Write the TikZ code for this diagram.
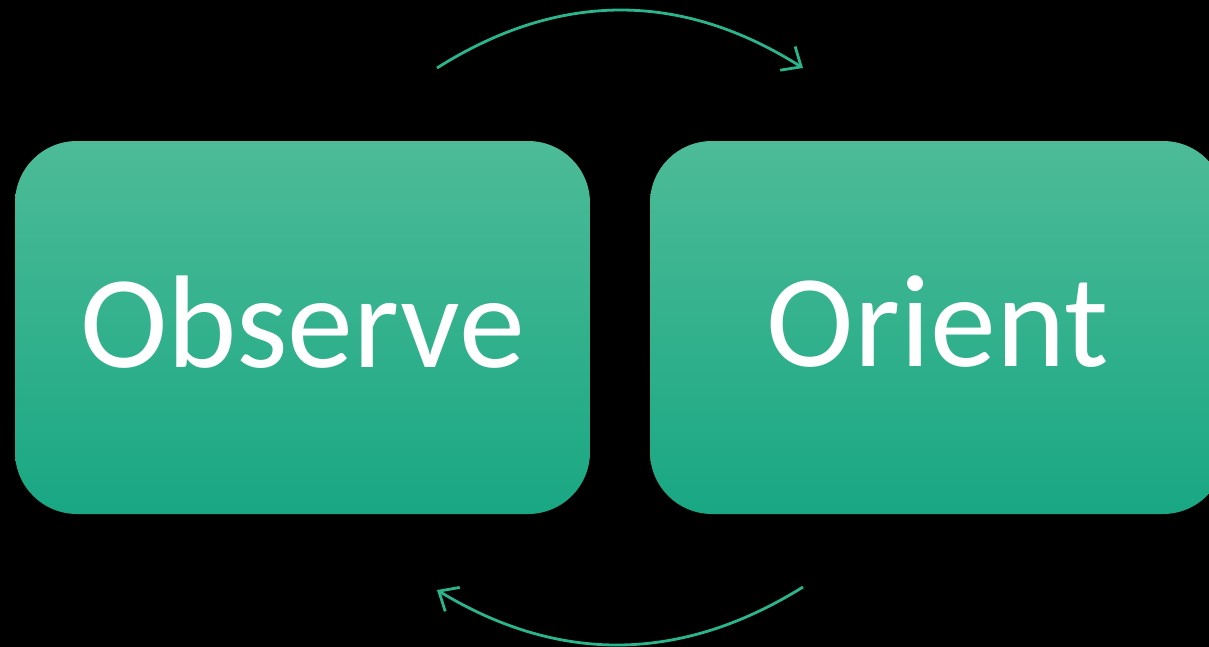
\documentclass[tikz,border=0pt]{standalone}
\usepackage{fontspec}
\setmainfont{Carlito}
\usetikzlibrary{arrows.meta}
\definecolor{boxtop}{HTML}{4DBB97}
\definecolor{boxbot}{HTML}{19A783}
\definecolor{loopline}{HTML}{2AB58C}
\tikzset{
  stage/.style={rectangle, rounded corners=31pt, minimum width=287.5pt, minimum height=186.5pt,
    top color=boxtop, bottom color=boxbot, draw=none, text=white, inner sep=0pt,
    text depth=6pt, font=\fontsize{66}{66}\selectfont},
  loop/.style={draw=loopline, line width=1.4pt, -{Straight Barb[length=8pt, width=14pt, line width=1.4pt]}}
}
\begin{document}
\begin{tikzpicture}[x=0.5pt, y=-0.5pt]
  \useasboundingbox (0,0) rectangle (1209,647);
  \fill[black] (0,0) rectangle (1209,647);
  \clip (0,0) rectangle (1209,647);
  % the two stages
  \node[stage] (obs) at (302.5,327.5) {Observe};
  \node[stage] (ori) at (937.5,327.5) {Orient};
  % loop arrows between them
  \coordinate (t1) at (437,68);
  \coordinate (t2) at (803,68);
  \coordinate (b1) at (803,587);
  \coordinate (b2) at (437,590);
  \draw[loop] (t1) .. controls (559,-9) and (681,-9) .. (t2);
  \draw[loop] (b1) .. controls (681,663) and (559,664) .. (b2);
\end{tikzpicture}
\end{document}
